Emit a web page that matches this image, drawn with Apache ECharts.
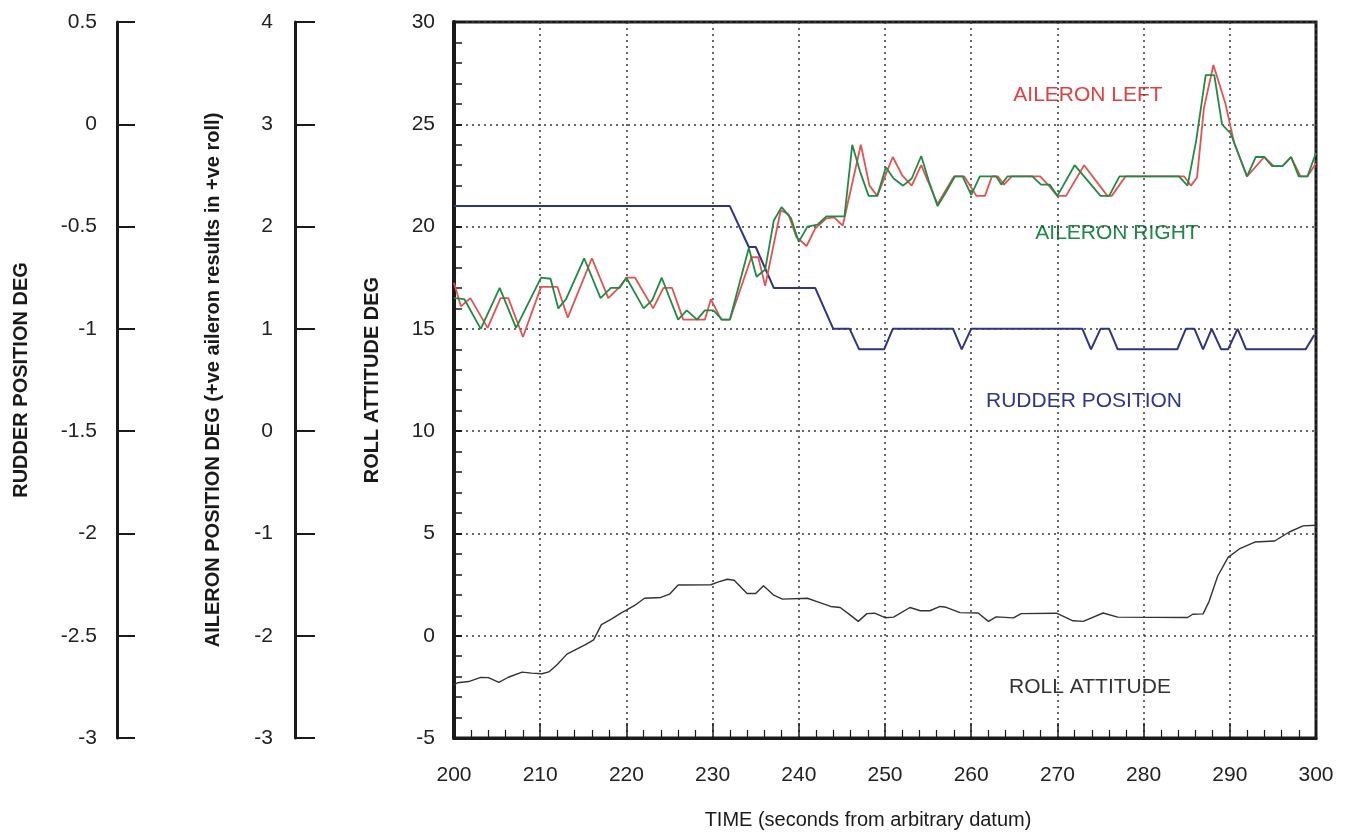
<!DOCTYPE html>
<html>
<head>
<meta charset="utf-8">
<title>Roll, aileron and rudder time history</title>
<script src="https://cdn.jsdelivr.net/npm/echarts@6/dist/echarts.min.js"></script>
<style>
  html, body { margin: 0; padding: 0; background: #fff; }
  #chart { width: 1346px; height: 836px; }
</style>
</head>
<body>
<div id="chart"></div>
<script>
// ---- data: [time s, value] ----
// aileron positions in aileron deg (middle axis)
const aileronLeft = [
  [200, 1.45], [200.8, 1.22], [201.9, 1.30], [203.9, 1.01], [205.4, 1.30], [206.3, 1.30],
  [208.0, 0.92], [210.1, 1.41], [212.0, 1.41], [213.2, 1.11], [216.0, 1.69], [217.9, 1.30],
  [219.1, 1.40], [220.0, 1.50], [221.0, 1.50], [223.1, 1.20], [224.3, 1.40], [225.3, 1.40],
  [226.6, 1.09], [229.1, 1.09], [229.8, 1.29], [231.0, 1.09], [232.0, 1.09], [234.5, 1.70],
  [235.3, 1.70], [236.1, 1.42], [237.9, 2.16], [238.8, 2.12], [239.7, 1.90], [240.9, 1.81],
  [241.9, 1.98], [243.2, 2.08], [244.1, 2.09], [245.1, 2.01], [247.2, 2.80], [248.2, 2.40],
  [249.1, 2.30], [250.9, 2.68], [252.0, 2.50], [253.1, 2.40], [254.2, 2.60], [256.1, 2.22],
  [258.0, 2.49], [259.2, 2.49], [260.6, 2.30], [261.6, 2.30], [262.4, 2.49], [263.1, 2.49],
  [263.8, 2.41], [264.7, 2.49], [268.0, 2.49], [269.0, 2.40], [270.0, 2.30], [271.0, 2.30],
  [273.1, 2.60], [275.8, 2.30], [276.3, 2.30], [277.9, 2.49], [284.7, 2.49], [285.5, 2.40],
  [286.2, 2.48], [287.0, 3.16], [288.1, 3.58], [289.5, 3.20], [290.5, 2.82], [292.0, 2.49],
  [294.0, 2.68], [295.1, 2.59], [296.1, 2.59], [297.1, 2.68], [298.2, 2.49], [299.0, 2.49],
  [300, 2.62]
];

const aileronRight = [
  [200, 1.30], [201.2, 1.29], [203.1, 1.00], [205.3, 1.40], [207.2, 1.01], [210.1, 1.50],
  [211.2, 1.49], [212.1, 1.20], [213.0, 1.29], [215.1, 1.69], [217.0, 1.30], [218.2, 1.40],
  [219.2, 1.40], [220.0, 1.50], [222.0, 1.20], [223.0, 1.28], [224.1, 1.50], [226.0, 1.09],
  [227.0, 1.18], [228.2, 1.09], [229.1, 1.18], [230.1, 1.18], [231.1, 1.09], [232.0, 1.09],
  [234.2, 1.79], [235.1, 1.51], [236.1, 1.58], [237.1, 2.06], [238.0, 2.19], [239.1, 2.08],
  [240.0, 1.85], [241.0, 2.00], [242.2, 2.02], [243.2, 2.10], [245.3, 2.10], [246.2, 2.80],
  [247.1, 2.54], [248.1, 2.30], [249.1, 2.30], [250.1, 2.58], [251.0, 2.47], [252.1, 2.40],
  [253.1, 2.47], [254.2, 2.69], [255.1, 2.44], [256.1, 2.20], [257.1, 2.34], [258.1, 2.49],
  [259.0, 2.49], [260.0, 2.31], [261.0, 2.49], [262.9, 2.49], [263.5, 2.41], [264.2, 2.49],
  [267.1, 2.49], [268.1, 2.41], [269.1, 2.41], [270.0, 2.30], [272.0, 2.60], [275.0, 2.30],
  [276.0, 2.30], [277.2, 2.49], [284.1, 2.49], [285.1, 2.40], [286.1, 2.84], [287.2, 3.48],
  [288.2, 3.48], [289.1, 3.00], [290.1, 2.91], [292.0, 2.49], [293.0, 2.68], [294.0, 2.68],
  [294.9, 2.59], [296.1, 2.59], [297.1, 2.68], [298.0, 2.49], [299.0, 2.49], [300, 2.72]
];

// rudder position in rudder deg (outer axis)
const rudderPosition = [
  [200, -0.4], [232.0, -0.4], [234.2, -0.6], [235.0, -0.6], [237.1, -0.8], [241.9, -0.8],
  [244.0, -1.0], [245.9, -1.0], [247.0, -1.1], [249.9, -1.1], [250.9, -1.0], [257.9, -1.0],
  [258.9, -1.1], [260.0, -1.0], [272.9, -1.0], [273.9, -1.1], [275.0, -1.0], [276.0, -1.0],
  [277.0, -1.1], [283.9, -1.1], [284.9, -1.0], [285.9, -1.0], [286.9, -1.1], [287.9, -1.0],
  [289.0, -1.1], [289.8, -1.1], [290.9, -1.0], [291.9, -1.1], [298.8, -1.1], [299.8, -1.03]
];

// roll attitude in deg (inner axis)
const rollAttitude = [
  [200, -2.4], [200.4, -2.3], [201.7, -2.24], [203.1, -2.04], [204.0, -2.05], [205.2, -2.28],
  [206.3, -2.03], [207.9, -1.78], [209.0, -1.83], [210.2, -1.86], [211.0, -1.77], [211.9, -1.44],
  [213.1, -0.9], [214.0, -0.7], [215.2, -0.45], [216.2, -0.2], [217.1, 0.54], [218.3, 0.82],
  [219.4, 1.12], [220.0, 1.25], [221.0, 1.49], [222.1, 1.83], [224.0, 1.87], [225.0, 2.03],
  [226.0, 2.48], [229.8, 2.49], [230.6, 2.62], [231.7, 2.76], [232.5, 2.71], [234.0, 2.06],
  [235.0, 2.06], [235.9, 2.44], [237.1, 1.98], [238.1, 1.79], [241.0, 1.83], [242.1, 1.67],
  [243.7, 1.43], [244.8, 1.38], [245.9, 1.03], [246.9, 0.7], [247.9, 1.08], [248.8, 1.1],
  [250.0, 0.88], [251.0, 0.91], [252.9, 1.38], [254.1, 1.22], [255.2, 1.22], [256.4, 1.43],
  [257.1, 1.39], [258.7, 1.13], [260.8, 1.11], [262.0, 0.7], [262.9, 0.92], [264.9, 0.87],
  [265.8, 1.08], [269.9, 1.1], [271.8, 0.73], [273.0, 0.7], [275.3, 1.11], [277.0, 0.91],
  [285.1, 0.89], [285.7, 1.05], [286.9, 1.07], [287.6, 1.68], [288.6, 2.92], [289.8, 3.83],
  [291.1, 4.24], [292.9, 4.58], [295.2, 4.63], [296.9, 5.07], [298.5, 5.37], [300, 5.4]
];

const FONT = '"Liberation Sans", Arial, sans-serif';
const INK = '#1a1a1a';

const dotted = { color: '#3a3a3a', width: 1.5, type: [2, 4] };

function leftAxis(opts) {
    return {
        type: 'value',
        position: 'left',
        min: opts.min,
        max: opts.max,
        interval: opts.interval,
        offset: opts.offset,
        name: opts.name,
        nameLocation: 'middle',
        nameRotate: 90,
        nameGap: opts.nameGap,
        nameTextStyle: { fontFamily: FONT, fontSize: 20, fontWeight: 'bold', color: INK },
        axisLine: { show: true, onZero: false, lineStyle: { color: INK, width: 3 } },
        axisTick: { show: true, inside: true, length: opts.tick, lineStyle: { color: INK, width: 2 } },
        axisLabel: { margin: opts.margin, fontFamily: FONT, fontSize: 21, color: '#222' },
        splitLine: { show: false }
    };
}

const chart = echarts.init(document.getElementById('chart'));

const rollAxis = leftAxis({
    min: -5, max: 30, interval: 5, offset: 0, tick: 8, margin: 19, nameGap: 72,
    name: 'ROLL ATTITUDE DEG'
});
rollAxis.axisLine.lineStyle.width = 4;
rollAxis.minorTick = { show: true, splitNumber: 5, length: 8, lineStyle: { color: INK, width: 1.5 } };
rollAxis.splitLine = { show: true, lineStyle: dotted };

chart.setOption({
    animation: false,
    backgroundColor: '#fff',
    grid: {
        left: 454, right: 30, top: 22, bottom: 98,
        show: true, borderColor: INK, borderWidth: 3, backgroundColor: 'transparent'
    },
    xAxis: {
        type: 'value',
        min: 200, max: 300, interval: 10,
        name: 'TIME (seconds from arbitrary datum)',
        nameLocation: 'middle',
        nameGap: 72,
        nameTextStyle: { fontFamily: FONT, fontSize: 20, color: INK, padding: [0, 34, 0, 0] },
        axisLine: { show: true, onZero: false, lineStyle: { color: INK, width: 3 } },
        axisTick: { show: true, inside: true, length: 15, lineStyle: { color: INK, width: 1.5 } },
        minorTick: { show: true, splitNumber: 5, length: 8, lineStyle: { color: INK, width: 1.2 } },
        axisLabel: { margin: 27, fontFamily: FONT, fontSize: 21, color: '#222' },
        splitLine: { show: true, lineStyle: dotted }
    },
    yAxis: [
        rollAxis,
        leftAxis({
            min: -3, max: 4, interval: 1, offset: 159, tick: 20, margin: 22, nameGap: 72,
            name: 'AILERON POSITION DEG (+ve aileron results in +ve roll)'
        }),
        leftAxis({
            min: -3, max: 0.5, interval: 0.5, offset: 337, tick: 18, margin: 20, nameGap: 86,
            name: 'RUDDER POSITION DEG'
        })
    ],
    series: [
        {
            name: 'Rudder position', type: 'line', yAxisIndex: 2, data: rudderPosition,
            showSymbol: false, lineStyle: { color: '#2d3584', width: 2 }
        },
        {
            name: 'Aileron left', type: 'line', yAxisIndex: 1, data: aileronLeft,
            showSymbol: false, lineStyle: { color: '#e5524f', width: 1.8 }
        },
        {
            name: 'Aileron right', type: 'line', yAxisIndex: 1, data: aileronRight,
            showSymbol: false, lineStyle: { color: '#1f8b45', width: 1.8 }
        },
        {
            name: 'Roll attitude', type: 'line', yAxisIndex: 0, data: rollAttitude,
            showSymbol: false, lineStyle: { color: '#333', width: 1.4 }
        }
    ],
    graphic: [
        { type: 'text', x: 1088, y: 95, style: { text: 'AILERON LEFT', fill: '#e2403f', font: '21px ' + FONT, align: 'center', verticalAlign: 'middle' } },
        { type: 'text', x: 1117, y: 233, style: { text: 'AILERON RIGHT', fill: '#1d8a45', font: '21px ' + FONT, align: 'center', verticalAlign: 'middle' } },
        { type: 'text', x: 1084, y: 401, style: { text: 'RUDDER POSITION', fill: '#2d3590', font: '21px ' + FONT, align: 'center', verticalAlign: 'middle' } },
        { type: 'text', x: 1090, y: 687, style: { text: 'ROLL ATTITUDE', fill: '#333', font: '21px ' + FONT, align: 'center', verticalAlign: 'middle' } }
    ]
});
</script>
</body>
</html>
